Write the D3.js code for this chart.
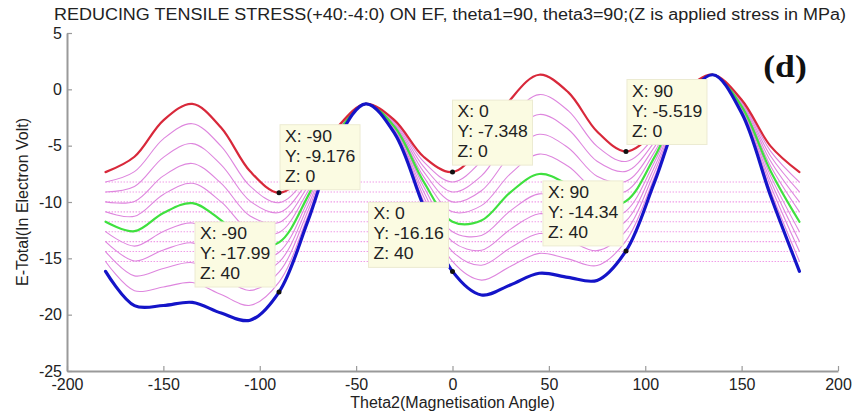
<!DOCTYPE html>
<html>
<head>
<meta charset="utf-8">
<script src="https://cdn.jsdelivr.net/npm/d3@7"></script>
<style>
  html, body { margin: 0; padding: 0; background: #ffffff; }
  svg { display: block; }
</style>
</head>
<body>
<svg id="chart" width="855" height="418"></svg>
<script>
// ---------------- DATA ----------------
const titleText = "REDUCING TENSILE STRESS(+40:-4:0) ON EF, theta1=90, theta3=90;(Z is applied stress in MPa)";
const xLabel = "Theta2(Magnetisation Angle)";
const yLabel = "E-Total(In Electron Volt)";
const panelLabel = "(d)";

const xTicks = [-200, -150, -100, -50, 0, 50, 100, 150, 200];
const yTicks = [5, 0, -5, -10, -15, -20, -25];

// Theta2 samples (degrees)
const theta = [-180, -165, -150, -135, -120, -105, -90, -75, -60, -45, -30, -15, 0,
               15, 30, 45, 60, 75, 90, 105, 120, 135, 150, 165, 180];

// Applied stress Z (MPa), one curve per value
const stressZ = [0, 4, 8, 12, 16, 20, 24, 28, 32, 36, 40];

// E-Total (eV) for each Z
const eZ0  = [-7.348, -5.983, -2.749, -1.291, -3.418, -7.276, -9.176, -7.276, -3.418, -1.291, -2.749, -5.983, -7.348, -5.037, -0.921, 1.295, -0.252, -3.744, -5.519, -3.744, -0.252, 1.295, -0.921, -5.037, -7.348];
const eZ4  = [-8.229, -7.305, -4.393, -3.053, -5.062, -8.598, -10.057, -7.717, -3.536, -1.291, -2.867, -6.424, -8.229, -6.359, -2.565, -0.467, -1.896, -5.066, -6.401, -4.185, -0.370, 1.295, -1.039, -5.478, -8.229];
const eZ8  = [-9.110, -8.626, -6.037, -4.815, -6.706, -9.919, -10.938, -8.157, -3.654, -1.291, -2.985, -6.864, -9.110, -7.680, -4.209, -2.229, -3.540, -6.387, -7.282, -4.625, -0.488, 1.295, -1.157, -5.918, -9.110];
const eZ12 = [-9.991, -9.948, -7.681, -6.577, -8.350, -11.241, -11.819, -8.598, -3.772, -1.291, -3.103, -7.305, -9.991, -9.002, -5.853, -3.991, -5.184, -7.709, -8.163, -5.066, -0.606, 1.295, -1.275, -6.359, -9.991];
const eZ16 = [-10.872, -11.269, -9.325, -8.339, -9.994, -12.562, -12.700, -9.038, -3.890, -1.291, -3.221, -7.745, -10.872, -10.323, -7.497, -5.753, -6.828, -9.030, -9.044, -5.506, -0.724, 1.295, -1.393, -6.799, -10.872];
const eZ20 = [-11.753, -12.591, -10.969, -10.101, -11.638, -13.884, -13.581, -9.479, -4.008, -1.291, -3.339, -8.186, -11.753, -11.645, -9.141, -7.515, -8.472, -10.352, -9.925, -5.947, -0.842, 1.295, -1.511, -7.240, -11.753];
const eZ24 = [-12.634, -13.912, -12.613, -11.863, -13.282, -15.205, -14.462, -9.919, -4.126, -1.291, -3.457, -8.626, -12.634, -12.966, -10.785, -9.277, -10.116, -11.673, -10.806, -6.387, -0.960, 1.295, -1.629, -7.680, -12.634];
const eZ28 = [-13.515, -15.234, -14.257, -13.625, -14.926, -16.527, -15.343, -10.360, -4.244, -1.291, -3.575, -9.067, -13.515, -14.288, -12.429, -11.039, -11.760, -12.995, -11.687, -6.828, -1.078, 1.295, -1.747, -8.121, -13.515];
const eZ32 = [-14.396, -16.555, -15.901, -15.387, -16.570, -17.848, -16.224, -10.800, -4.362, -1.291, -3.693, -9.507, -14.396, -15.609, -14.073, -12.801, -13.404, -14.316, -12.568, -7.268, -1.196, 1.295, -1.865, -8.561, -14.396];
const eZ36 = [-15.277, -17.877, -17.545, -17.149, -18.214, -19.170, -17.105, -11.241, -4.480, -1.291, -3.811, -9.948, -15.277, -16.931, -15.717, -14.563, -15.048, -15.638, -13.449, -7.709, -1.314, 1.295, -1.983, -9.002, -15.277];
const eZ40 = [-16.158, -19.198, -19.188, -18.911, -19.857, -20.491, -17.990, -11.681, -4.599, -1.291, -3.930, -10.388, -16.160, -18.252, -17.360, -16.325, -16.691, -16.959, -14.340, -8.149, -1.433, 1.295, -2.102, -9.442, -16.158];

// Data tips shown in the figure
const tipTheta = [-90, -90, 0, 0, 90, 90];
const tipE     = [-9.176, -17.99, -16.16, -7.348, -14.34, -5.519];
const tipZ     = [0, 40, 40, 0, 40, 0];

// ---------------- DRAWING ----------------
const energies = [eZ0, eZ4, eZ8, eZ12, eZ16, eZ20, eZ24, eZ28, eZ32, eZ36, eZ40];

const svg = d3.select("#chart");
const W = 855, H = 418;
const m = { left: 67, right: 17, top: 33, bottom: 47 };

const x = d3.scaleLinear().domain([-200, 200]).range([m.left, W - m.right]);
const y = d3.scaleLinear().domain([-25, 5]).range([H - m.bottom, m.top]);

const fontSans = "Arial, 'Liberation Sans', Helvetica, sans-serif";

// title
svg.append("text")
  .attr("x", 54).attr("y", 20)
  .attr("textLength", 792).attr("lengthAdjust", "spacingAndGlyphs")
  .style("font-family", fontSans).style("font-size", "16px").style("fill", "#222")
  .text(titleText);

const lineGen = d3.line()
  .x(d => x(d[0])).y(d => y(d[1]))
  .curve(d3.curveCatmullRom.alpha(0.5));

const plot = svg.append("g");

// horizontal dotted mesh lines at the theta=±180 level of intermediate curves
stressZ.forEach((z, i) => {
  if (z === 0 || z === 40) return;
  const lvl = energies[i][0];
  plot.append("path")
    .attr("d", d3.line().x(d => x(d[0])).y(d => y(d[1]))([[theta[0], lvl], [theta[theta.length - 1], lvl]]))
    .attr("fill", "none")
    .attr("stroke", "#f09ce8")
    .attr("stroke-width", 1.1)
    .attr("stroke-dasharray", "1.5,1.5");
});

function styleFor(z) {
  if (z === 0)  return { c: "#d8283a", w: 2.2 };
  if (z === 40) return { c: "#1414c8", w: 3.2 };
  if (z === 20) return { c: "#3fe03f", w: 2.2 };
  return { c: "#de86de", w: 1.1 };
}

const order = stressZ.map((z, i) => i).sort((a, b) => {
  const rank = z => (z === 40 ? 3 : z === 0 ? 2 : z === 20 ? 1 : 0);
  return rank(stressZ[a]) - rank(stressZ[b]);
});

order.forEach(i => {
  const s = styleFor(stressZ[i]);
  const pts = theta.map((t, j) => [t, energies[i][j]]);
  plot.append("path")
    .attr("d", lineGen(pts))
    .attr("fill", "none")
    .attr("stroke", s.c)
    .attr("stroke-width", s.w)
    .attr("stroke-linejoin", "round")
    .attr("stroke-linecap", "round");
});

// axes (left and bottom only, ticks inward)
const axisColor = "#9a9a9a";
const fmt = d => String(d);
const gx = svg.append("g").attr("transform", `translate(0,${y(-25)})`)
  .call(d3.axisBottom(x).tickValues(xTicks).tickFormat(fmt).tickSizeInner(-5).tickSizeOuter(0).tickPadding(8));
const gy = svg.append("g").attr("transform", `translate(${x(-200)},0)`)
  .call(d3.axisLeft(y).tickValues(yTicks).tickFormat(fmt).tickSizeInner(-5).tickSizeOuter(0).tickPadding(5));
[gx, gy].forEach(g => {
  g.select(".domain").attr("stroke", axisColor).attr("stroke-width", 2);
  g.selectAll(".tick line").attr("stroke", axisColor).attr("stroke-width", 1.2);
  g.selectAll(".tick text").style("font-family", fontSans).style("font-size", "16px").style("fill", "#222");
});

// axis labels
svg.append("text")
  .attr("x", x(0)).attr("y", 408)
  .attr("text-anchor", "middle")
  .style("font-family", fontSans).style("font-size", "16px").style("fill", "#222")
  .text(xLabel);
svg.append("text")
  .attr("transform", `translate(28,${y(-10)}) rotate(-90)`)
  .attr("text-anchor", "middle")
  .style("font-family", fontSans).style("font-size", "16px").style("fill", "#222")
  .text(yLabel);

// panel label
svg.append("text")
  .attr("transform", "translate(785,77) scale(1.15,1)")
  .attr("text-anchor", "middle")
  .style("font-family", "'Liberation Serif', 'Times New Roman', serif")
  .style("font-weight", "bold").style("font-size", "31px").style("fill", "#111")
  .text(panelLabel);

// data tips (box placement: [dx of box left from point, dy of box top from point])
const tipPlace = [[1, -68], [-84, -70], [-84, -69], [0, -72], [-83, -70], [1, -72]];
const tipW = 80, tipH = 65;
tipTheta.forEach((t, i) => {
  const px = x(t), py = y(tipE[i]);
  const bx = px + tipPlace[i][0], by = py + tipPlace[i][1];
  const g = svg.append("g");
  g.append("rect")
    .attr("x", bx).attr("y", by).attr("width", tipW).attr("height", tipH)
    .attr("fill", "#fbfbe2").attr("stroke", "#ecebd2").attr("stroke-width", 1);
  const lines = ["X: " + t, "Y: " + tipE[i], "Z: " + tipZ[i]];
  lines.forEach((s, k) => {
    g.append("text")
      .attr("transform", `translate(${bx + 5},${by + 17 + k * 20}) scale(1.1,1)`)
      .style("font-family", fontSans).style("font-size", "16px").style("fill", "#222")
      .text(s);
  });
  svg.append("circle").attr("cx", px).attr("cy", py).attr("r", 2.5).attr("fill", "#111");
});
</script>
</body>
</html>
